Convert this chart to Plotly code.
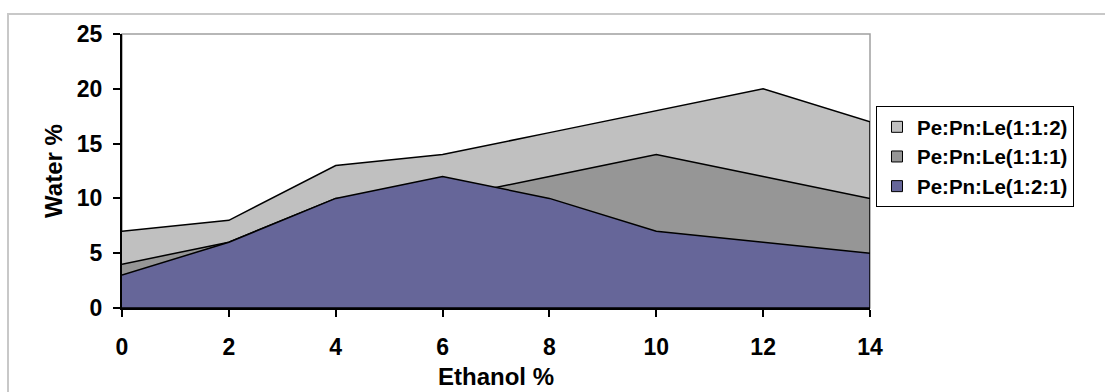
import plotly.graph_objects as go

# Ethanol concentration (%) and water uptake (%) for three Pe:Pn:Le ratios
ethanol = [0, 2, 4, 6, 8, 10, 12, 14]
ratio_112 = [7, 8, 13, 14, 16, 18, 20, 17]
ratio_111 = [4, 6, 10, 10, 12, 14, 12, 10]
ratio_121 = [3, 6, 10, 12, 10, 7, 6, 5]

series_names = ["Pe:Pn:Le(1:1:2)", "Pe:Pn:Le(1:1:1)", "Pe:Pn:Le(1:2:1)"]
series_values = [ratio_112, ratio_111, ratio_121]
series_colors = ["#C0C0C0", "#969696", "#666699"]

FAMILY = "Liberation Sans, Arial, sans-serif"
FONT = dict(family=FAMILY, size=23, color="black", weight="bold")
TITLE_FONT = dict(family=FAMILY, size=24, color="black", weight="bold")

W, H = 1105, 392
ML, MR, MT, MB = 122, 235, 34, 84
PW, PH = W - ML - MR, H - MT - MB


def px_x(p):
    return (p - ML) / PW


def px_y(p):
    return (H - MB - p) / PH


fig = go.Figure()

# Overlapping (unstacked) areas, back to front, each outlined as a closed polygon
for name, vals, col in zip(series_names, series_values, series_colors):
    xs = list(ethanol) + [ethanol[-1], ethanol[0]]
    ys = list(vals) + [0, 0]
    fig.add_trace(go.Scatter(
        x=xs, y=ys, mode="lines", fill="toself", fillcolor=col,
        line=dict(color="black", width=1.5), name=name, showlegend=False,
        hoverinfo="skip",
    ))

# Square legend swatches
for name, col in zip(series_names, series_colors):
    fig.add_trace(go.Scatter(
        x=[None], y=[None], mode="markers", name=name,
        marker=dict(symbol="square", size=11, color=col,
                    line=dict(color="black", width=1)),
    ))

fig.update_layout(
    width=W, height=H,
    margin=dict(l=ML, r=MR, t=MT, b=MB, autoexpand=False),
    paper_bgcolor="white", plot_bgcolor="white",
    font=FONT,
    showlegend=True,
    legend=dict(
        x=px_x(876), y=px_y(106), xref="paper", yref="paper",
        xanchor="left", yanchor="top",
        bordercolor="black", borderwidth=1, bgcolor="white",
        font=dict(family=FAMILY, size=20.5, color="black", weight="bold"),
        traceorder="normal", itemsizing="trace", itemwidth=30,
    ),
    xaxis=dict(
        range=[0, 14], tickvals=ethanol, ticktext=[str(v) for v in ethanol],
        showgrid=False, zeroline=False, automargin=False,
        showline=True, linecolor="black", linewidth=2,
        ticks="outside", ticklen=7, tickcolor="black", tickwidth=1.5,
        ticklabelstandoff=10,
        title=dict(text="Ethanol %", font=TITLE_FONT, standoff=10),
    ),
    yaxis=dict(
        range=[0, 25], dtick=5,
        showgrid=False, zeroline=False, automargin=False,
        showline=True, linecolor="black", linewidth=2,
        ticks="outside", ticklen=7, tickcolor="black", tickwidth=1.5,
        ticklabelstandoff=6,
        title=dict(text="Water %", font=TITLE_FONT, standoff=7),
    ),
    shapes=[
        # plot-area frame (top and right edges)
        dict(type="rect", xref="paper", yref="paper", x0=0, y0=0, x1=1, y1=1,
             line=dict(color="#A0A0A0", width=1.5), layer="below"),
        # chart-area border
        dict(type="rect", xref="paper", yref="paper",
             x0=px_x(8), y0=px_y(420), x1=px_x(1130), y1=px_y(14),
             line=dict(color="#C8C8C8", width=2), layer="below"),
    ],
)

fig.write_html("out.html")
